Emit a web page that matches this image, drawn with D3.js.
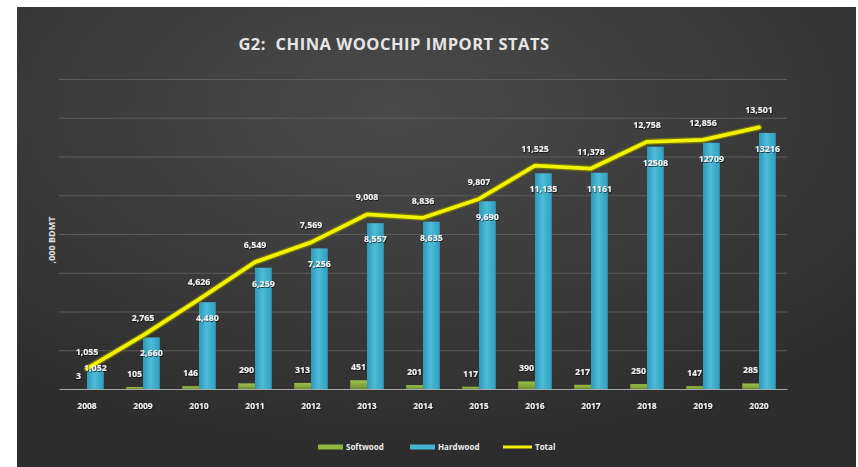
<!DOCTYPE html>
<html>
<head>
<meta charset="utf-8">
<script src="https://cdn.jsdelivr.net/npm/d3@7/dist/d3.min.js"></script>
<style>
  html, body { margin: 0; padding: 0; background: #ffffff; }
  svg { display: block; }
  text { font-family: "Open Sans", "DejaVu Sans", sans-serif; }
</style>
</head>
<body>
<svg id="chart" width="858" height="467"></svg>
<script>
// China woodchip imports, '000 BDMT
const years = ["2008","2009","2010","2011","2012","2013","2014","2015","2016","2017","2018","2019","2020"];
const softwood = [3, 105, 146, 290, 313, 451, 201, 117, 390, 217, 250, 147, 285];
const hardwood = [1052, 2660, 4480, 6259, 7256, 8557, 8635, 9690, 11135, 11161, 12508, 12709, 13216];
const total = [1055, 2765, 4626, 6549, 7569, 9008, 8836, 9807, 11525, 11378, 12758, 12856, 13501];
const hardwoodLabels = ["1,052","2,660","4,480","6,259","7,256","8,557","8,635","9,690","11,135","11161","12508","12709","13216"];
const yTicks = [0, 2000, 4000, 6000, 8000, 10000, 12000, 14000, 16000];
const seriesNames = ["Softwood", "Hardwood", "Total"];

const fmt = d3.format(",");
const svg = d3.select("#chart");
const W = 858, H = 467;
const defs = svg.append("defs");

// panel background
const bg = defs.append("radialGradient").attr("id", "bg")
  .attr("cx", "45%").attr("cy", "22%").attr("r", "75%");
bg.append("stop").attr("offset", "0%").attr("stop-color", "#4a4a4a");
bg.append("stop").attr("offset", "60%").attr("stop-color", "#393939");
bg.append("stop").attr("offset", "100%").attr("stop-color", "#2d2d2d");

const hw = defs.append("linearGradient").attr("id", "hw").attr("x1", "0").attr("x2", "1").attr("y1", "0").attr("y2", "0");
hw.append("stop").attr("offset", "0%").attr("stop-color", "#3098b5");
hw.append("stop").attr("offset", "45%").attr("stop-color", "#4cbcd9");
hw.append("stop").attr("offset", "100%").attr("stop-color", "#339cb9");

const sw = defs.append("linearGradient").attr("id", "sw").attr("x1", "0").attr("x2", "0").attr("y1", "0").attr("y2", "1");
sw.append("stop").attr("offset", "0%").attr("stop-color", "#9cc24a");
sw.append("stop").attr("offset", "100%").attr("stop-color", "#6f9230");

const shadow = defs.append("filter").attr("id", "tshadow").attr("x", "-20%").attr("y", "-40%").attr("width", "140%").attr("height", "180%");
shadow.append("feDropShadow").attr("dx", 0.6).attr("dy", 0.8).attr("stdDeviation", 0.7)
  .attr("flood-color", "#000").attr("flood-opacity", 0.8);

svg.append("rect").attr("x", 17).attr("y", 7).attr("width", W - 19).attr("height", H - 7)
  .attr("fill", "url(#bg)");

// scales
const x = d3.scaleBand().domain(years).range([59, 787]);
const bw = x.bandwidth();
const xs = d3.scaleBand().domain(["Softwood", "Hardwood"]).range([bw * 0.2, bw * 0.8]);
const y = d3.scaleLinear().domain([0, 16000]).range([389, 79]);

// gridlines
svg.append("g")
  .attr("transform", "translate(59,0)")
  .call(d3.axisLeft(y).tickValues(yTicks.slice(1)).tickSize(-728).tickFormat(""))
  .call(g => g.select(".domain").remove())
  .call(g => g.selectAll(".tick line").attr("stroke", "#5c5c5c").attr("stroke-width", 1));

// title
svg.append("text")
  .attr("x", 394).attr("y", 50)
  .attr("text-anchor", "middle")
  .attr("fill", "#e6e6e6")
  .attr("font-size", 16.5).attr("font-weight", 700)
  .attr("letter-spacing", 0.5)
  .style("white-space", "pre")
  .text("G2:  CHINA WOOCHIP IMPORT STATS");

// y axis title
svg.append("text")
  .attr("transform", "translate(55,240) rotate(-90)")
  .attr("text-anchor", "middle")
  .attr("fill", "#e0e0e0")
  .attr("font-size", 9).attr("font-weight", 700)
  .text(",000 BDMT");

const rows = years.map((yr, i) => ({ yr, s: softwood[i], h: hardwood[i], t: total[i], hl: hardwoodLabels[i] }));

// bars
const grp = svg.append("g").selectAll("g").data(rows).join("g")
  .attr("transform", d => `translate(${x(d.yr)},0)`);
grp.append("rect")
  .attr("x", xs("Softwood")).attr("width", xs.bandwidth())
  .attr("y", d => y(d.s)).attr("height", d => y(0) - y(d.s))
  .attr("fill", "url(#sw)");
grp.append("rect")
  .attr("x", xs("Hardwood")).attr("width", xs.bandwidth())
  .attr("y", d => y(d.h)).attr("height", d => y(0) - y(d.h))
  .attr("fill", "url(#hw)");

// x axis
const xAxis = svg.append("g")
  .attr("transform", "translate(0,389)")
  .call(d3.axisBottom(x).tickSize(0).tickPadding(14));
xAxis.select(".domain").attr("stroke", "#a8a8a8").attr("stroke-width", 1.2);
xAxis.selectAll(".tick text")
  .attr("fill", "#f2f2f2").attr("font-size", 8.5).attr("font-weight", 700)
  .attr("font-family", "'Open Sans', sans-serif")
  .attr("filter", "url(#tshadow)");

// total line
const line = d3.line().x(d => x(d.yr) + bw / 2).y(d => y(d.t));
svg.append("path").datum(rows).attr("d", line)
  .attr("fill", "none").attr("stroke", "#6d6d18").attr("stroke-width", 6.5)
  .attr("stroke-linejoin", "round").attr("stroke-linecap", "round");
svg.append("path").datum(rows).attr("d", line)
  .attr("fill", "none").attr("stroke", "#f2f200").attr("stroke-width", 3.8)
  .attr("stroke-linejoin", "round").attr("stroke-linecap", "round");

// value labels
const lab = svg.append("g")
  .attr("font-size", 8.8).attr("font-weight", 700).attr("fill", "#f4f4f4")
  .attr("text-anchor", "middle").attr("filter", "url(#tshadow)");
lab.selectAll(".ls").data(rows).join("text")
  .attr("x", d => x(d.yr) + xs("Softwood") + xs.bandwidth() / 2)
  .attr("y", d => y(d.s) - 10)
  .text(d => fmt(d.s));
lab.selectAll(".lh").data(rows).join("text")
  .attr("x", d => x(d.yr) + xs("Hardwood") + xs.bandwidth() / 2)
  .attr("y", d => Math.min(y(d.h) + 19, y(0) - 18))
  .text(d => d.hl);
lab.selectAll(".lt").data(rows).join("text")
  .attr("x", d => x(d.yr) + bw / 2)
  .attr("y", d => y(d.t) - 14)
  .text(d => fmt(d.t));

// legend
const legend = svg.append("g").attr("font-size", 8).attr("font-weight", 700).attr("fill", "#ececec");
const legX = [318, 410, 503];
seriesNames.forEach((name, i) => {
  const g = legend.append("g").attr("transform", `translate(${legX[i]},447)`);
  if (name === "Total") {
    g.append("line").attr("x1", 0).attr("x2", 29).attr("y1", 0).attr("y2", 0)
      .attr("stroke", "#f2f200").attr("stroke-width", 3);
    g.append("text").attr("x", 32).attr("y", 3).text(name);
  } else {
    g.append("rect").attr("x", 0).attr("y", -2.5).attr("width", 25).attr("height", 5)
      .attr("fill", name === "Softwood" ? "#8fb642" : "#45b3d1");
    g.append("text").attr("x", 28).attr("y", 3).text(name);
  }
});
</script>
</body>
</html>
